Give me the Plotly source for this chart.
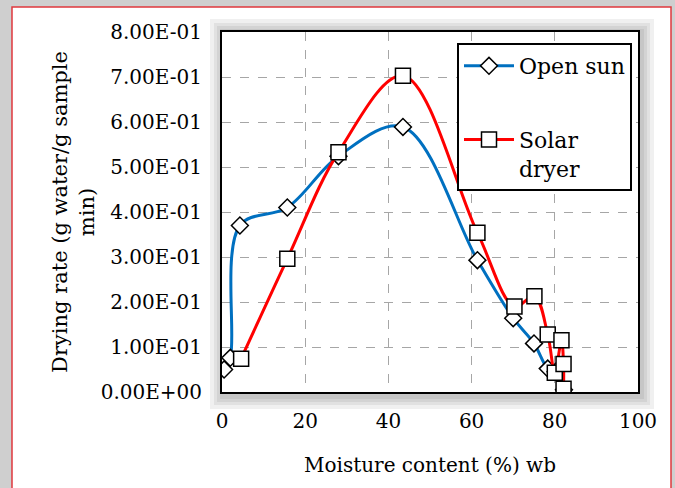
import plotly.graph_objects as go

# ---------------- data ----------------
moisture_open = [0.5, 2.0, 4.3, 15.7, 28.0, 43.5, 61.4, 70.0, 75.0, 78.3, 80.2, 82.2]
rate_open = [0.050, 0.076, 0.370, 0.410, 0.524, 0.589, 0.293, 0.164, 0.108, 0.052, 0.045, 0.005]

moisture_solar = [4.6, 15.7, 28.0, 43.5, 61.4, 70.3, 75.1, 78.3, 80.0, 81.6, 82.1, 82.1]
rate_solar = [0.074, 0.296, 0.533, 0.703, 0.354, 0.190, 0.213, 0.128, 0.043, 0.115, 0.062, 0.007]

x_ticks = [0, 20, 40, 60, 80, 100]
x_tick_labels = ["0", "20", "40", "60", "80", "100"]
y_ticks = [0.0, 0.1, 0.2, 0.3, 0.4, 0.5, 0.6, 0.7, 0.8]
y_tick_labels = ["0.00E+00", "1.00E-01", "2.00E-01", "3.00E-01", "4.00E-01",
                 "5.00E-01", "6.00E-01", "7.00E-01", "8.00E-01"]

# ---------------- layout geometry ----------------
W, H = 675, 488
ML, MR, MT, MB = 222, 37, 32, 96
PW, PH = W - ML - MR, H - MT - MB


def px(x):
    return (x - ML) / PW


def py(y):
    return (H - MB - y) / PH


FONT = "DejaVu Serif"

fig = go.Figure()
fig.add_trace(go.Scatter(
    x=moisture_open, y=rate_open, name="Open sun", mode="lines+markers",
    legendgroup="a",
    line=dict(color="#0070C0", width=3, shape="spline", smoothing=1.0),
    marker=dict(symbol="diamond", size=13, color="white",
                line=dict(color="black", width=1.5)),
))
fig.add_trace(go.Scatter(
    x=moisture_solar, y=rate_solar, name="Solar<br>dryer", mode="lines+markers",
    legendgroup="b",
    line=dict(color="#FF0000", width=3, shape="spline", smoothing=1.0),
    marker=dict(symbol="square", size=15, color="white",
                line=dict(color="black", width=1.5)),
))

shapes = []
# outer chart frame
shapes.append(dict(type="rect", xref="paper", yref="paper", layer="below",
                   x0=px(12), x1=px(671), y0=py(520), y1=py(7),
                   fillcolor="white", line=dict(color="#E0393E", width=1.5)))
# soft shadow around plot area
for g in [14, 10, 7, 4]:
    shapes.append(dict(type="rect", xref="paper", yref="paper", layer="below",
                       x0=px(ML - g + 2), x1=px(ML + PW + g + 2),
                       y0=py(MT + PH + g + 3), y1=py(MT - g + 1),
                       fillcolor="rgba(0,0,0,0.06)", line=dict(width=0)))
shapes.append(dict(type="rect", xref="paper", yref="paper", layer="below",
                   x0=0, x1=1, y0=0, y1=1,
                   fillcolor="white", line=dict(width=0)))

fig.update_layout(
    width=W, height=H,
    margin=dict(l=ML, r=MR, t=MT, b=MB),
    paper_bgcolor="#cfcfcf",
    plot_bgcolor="rgba(0,0,0,0)",
    font=dict(family=FONT, size=20, color="black"),
    shapes=shapes,
    showlegend=True,
    legend=dict(
        x=px(457), y=py(43), xanchor="left", yanchor="top",
        bgcolor="white", bordercolor="black", borderwidth=2,
        font=dict(family=FONT, size=22, color="black"),
        tracegroupgap=42, valign="top", itemwidth=50,
    ),
    xaxis=dict(
        range=[0, 100], tickvals=x_ticks, ticktext=x_tick_labels,
        showgrid=True, gridcolor="#a6a6a6", griddash="dash", gridwidth=1,
        showline=True, linecolor="black", linewidth=2, mirror=True,
        zeroline=False, ticks="", tickfont=dict(size=20), ticklabelstandoff=10,
        title=dict(text="Moisture content (%) wb", font=dict(size=20), standoff=26),
    ),
    yaxis=dict(
        range=[0, 0.8], tickvals=y_ticks, ticktext=y_tick_labels,
        showgrid=True, gridcolor="#a6a6a6", griddash="dash", gridwidth=1,
        showline=True, linecolor="black", linewidth=2, mirror=True,
        zeroline=False, ticks="", tickfont=dict(size=20), ticklabelstandoff=14,
        title=dict(text="Drying rate (g water/g sample<br>min)", font=dict(size=21), standoff=0),
    ),
)

fig.write_html("out.html")
